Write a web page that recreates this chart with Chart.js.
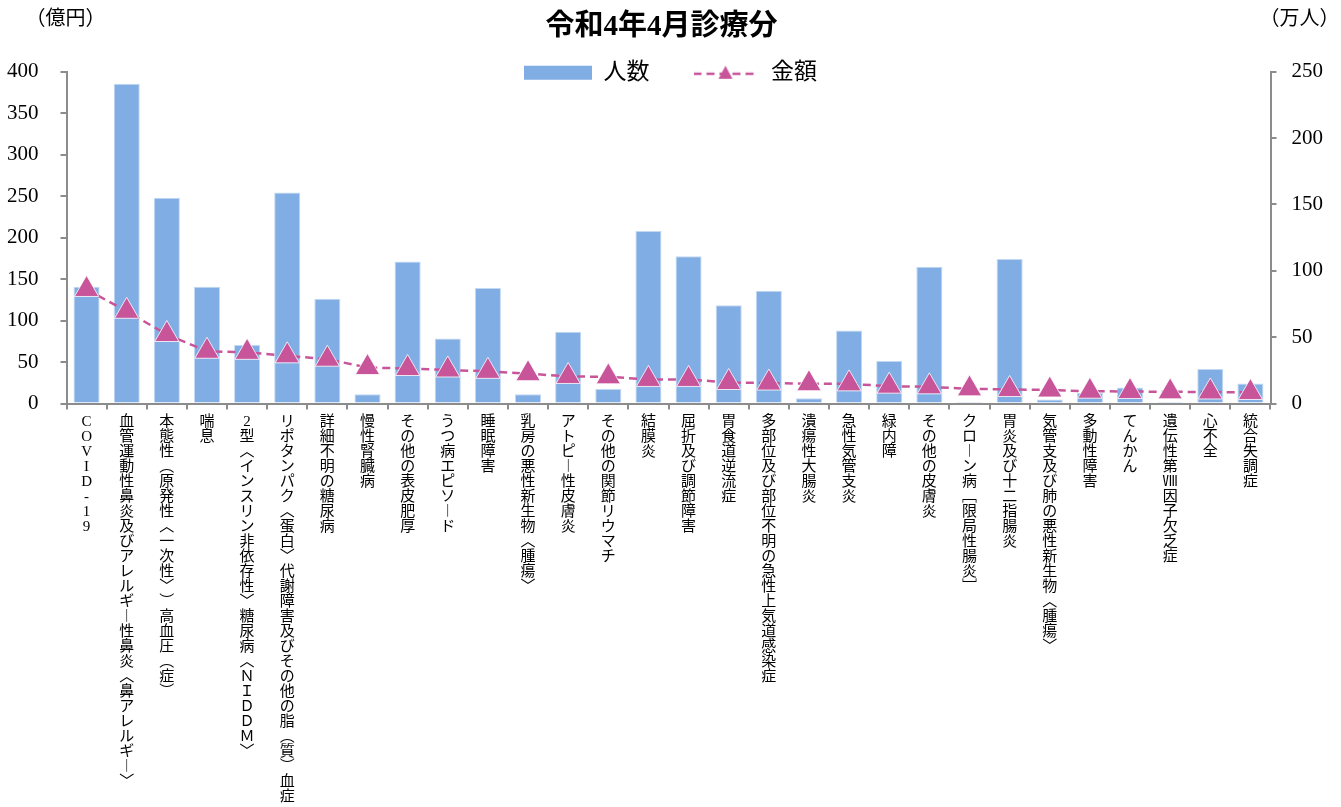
<!DOCTYPE html>
<html lang="ja">
<head>
<meta charset="utf-8">
<title>令和4年4月診療分</title>
<script src="https://cdn.jsdelivr.net/npm/chart.js@4.4.1/dist/chart.umd.min.js"></script>
<style>
  html, body { margin: 0; padding: 0; background: #fff; }
</style>
</head>
<body>
<canvas id="myChart" width="1341" height="807"></canvas>
<script>
// 傷病名（金額の多い順）
const diseases = [
  'COVID-19',
  '血管運動性鼻炎及びアレルギー性鼻炎〈鼻アレルギー〉',
  '本態性（原発性〈一次性〉）高血圧（症）',
  '喘息',
  '2型〈インスリン非依存性〉糖尿病〈ＮＩＤＤＭ〉',
  'リポタンパク〈蛋白〉代謝障害及びその他の脂（質）血症',
  '詳細不明の糖尿病',
  '慢性腎臓病',
  'その他の表皮肥厚',
  'うつ病エピソード',
  '睡眠障害',
  '乳房の悪性新生物〈腫瘍〉',
  'アトピー性皮膚炎',
  'その他の関節リウマチ',
  '結膜炎',
  '屈折及び調節障害',
  '胃食道逆流症',
  '多部位及び部位不明の急性上気道感染症',
  '潰瘍性大腸炎',
  '急性気管支炎',
  '緑内障',
  'その他の皮膚炎',
  'クローン病［限局性腸炎］',
  '胃炎及び十二指腸炎',
  '気管支及び肺の悪性新生物〈腫瘍〉',
  '多動性障害',
  'てんかん',
  '遺伝性第Ⅷ因子欠乏症',
  '心不全',
  '統合失調症'
];

// 人数（万人）
const patients = [88, 241, 155, 88, 44, 159, 79, 7, 107, 49,
                  87, 7, 54, 11, 130, 111, 74, 85, 4, 55,
                  32, 103, 0.4, 109, 3, 8, 12, 0.2, 26, 15];

// 金額（億円）
const amounts = [137.5, 111.2, 83.2, 63.0, 61.7, 57.5, 53.4, 43.4, 42.2, 40.4,
                 38.8, 36.0, 32.6, 32.2, 29.0, 29.0, 25.3, 24.7, 23.9, 23.7,
                 20.9, 20.1, 17.7, 16.9, 16.3, 14.8, 14.5, 14.1, 13.9, 13.3];

const leftTicks = [0, 50, 100, 150, 200, 250, 300, 350, 400];
const rightTicks = [0, 50, 100, 150, 200, 250];

const fam = '"Liberation Serif", "Noto Sans CJK JP", serif';
const barColor = '#80ade3';
const lineColor = '#c8559a';
const axisColor = '#8c8c8c';

// 縦書き用に文字を置き換えて1文字ずつ行にする
const vert = { '（': '︵', '）': '︶', '〈': '︿', '〉': '﹀', '［': '﹇', '］': '﹈', 'ー': '︱' };
const xLabels = diseases.map(s => Array.from(s).map(c => vert[c] || c));

// 凡例の「金額」用アイコン（破線＋三角）
const lineIcon = document.createElement('canvas');
lineIcon.width = 64;
lineIcon.height = 16;
(function () {
  const c = lineIcon.getContext('2d');
  c.strokeStyle = lineColor;
  c.lineWidth = 2.5;
  c.setLineDash([8, 5]);
  c.beginPath();
  c.moveTo(0, 9);
  c.lineTo(64, 9);
  c.stroke();
  c.fillStyle = lineColor;
  c.beginPath();
  c.moveTo(32, 1);
  c.lineTo(39, 14);
  c.lineTo(25, 14);
  c.closePath();
  c.fill();
})();

// 凡例をプロット上端に重ねる（凡例の中心を軸の上端に合わせる）
const legendShift = {
  id: 'legendShift',
  afterLayout(chart) {
    const lg = chart.legend;
    const lab = lg.options.labels;
    const h = lab.padding * 2 + lab.font.size + 10;
    lg.top = chart.chartArea.top + 1 - lab.padding - lab.font.size / 2;
    lg.height = h;
    lg.bottom = lg.top + h;
    lg.left = 0;
    lg.right = chart.width;
  }
};

// 軸の単位
const unitLabels = {
  id: 'unitLabels',
  afterDraw(chart) {
    const ctx = chart.ctx;
    ctx.save();
    ctx.font = '20px ' + fam;
    ctx.fillStyle = '#000';
    ctx.textAlign = 'center';
    ctx.textBaseline = 'middle';
    ctx.fillText('（億円）', chart.scales.y.right - 1, 20);
    ctx.fillText('（万人）', chart.scales.y1.left + 29, 20);
    ctx.restore();
  }
};

const ctx = document.getElementById('myChart').getContext('2d');
const myChart = new Chart(ctx, {
  type: 'bar',
  data: {
    labels: xLabels,
    datasets: [{
      type: 'bar',
      label: '人数',
      data: patients,
      yAxisID: 'y1',
      backgroundColor: barColor,
      borderColor: '#c3d9f3',
      borderWidth: 1,
      barPercentage: 0.65,
      categoryPercentage: 1,
      order: 2
    }, {
      type: 'line',
      label: '金額',
      data: amounts,
      yAxisID: 'y',
      borderColor: lineColor,
      backgroundColor: lineColor,
      borderWidth: 2.5,
      borderDash: [8, 5],
      pointStyle: 'triangle',
      pointRadius: 14,
      pointBackgroundColor: lineColor,
      pointBorderColor: 'rgba(255,255,255,0.8)',
      pointBorderWidth: 1,
      fill: false,
      tension: 0,
      order: 1
    }]
  },
  options: {
    responsive: false,
    animation: false,
    layout: { padding: { left: -15, right: 3, top: 0, bottom: 0 } },
    scales: {
      x: {
        offset: true,
        grid: { drawOnChartArea: false, offset: true, tickLength: 6, color: axisColor, lineWidth: 2 },
        border: { color: axisColor, width: 2 },
        ticks: {
          autoSkip: false, maxRotation: 0, minRotation: 0, padding: 5, color: '#000',
          font: { family: fam, size: 15, lineHeight: '15px' }
        }
      },
      y: {
        position: 'left',
        min: leftTicks[0],
        max: leftTicks[leftTicks.length - 1],
        ticks: {
          stepSize: leftTicks[1] - leftTicks[0], padding: 22, color: '#000',
          font: { family: fam, size: 21 }
        },
        grid: { drawOnChartArea: false, tickLength: 6, color: axisColor, lineWidth: 2 },
        border: { color: axisColor, width: 2 }
      },
      y1: {
        position: 'right',
        min: rightTicks[0],
        max: rightTicks[rightTicks.length - 1],
        ticks: {
          stepSize: rightTicks[1] - rightTicks[0], padding: 15, color: '#000',
          font: { family: fam, size: 21 }
        },
        grid: { drawOnChartArea: false, tickLength: 6, color: axisColor, lineWidth: 2 },
        border: { color: axisColor, width: 2 }
      }
    },
    plugins: {
      title: {
        display: true,
        text: '令和4年4月診療分',
        color: '#000',
        font: { family: fam, size: 29, weight: 'bold' },
        padding: { top: 10, bottom: 0 }
      },
      legend: {
        position: 'top',
        maxHeight: 27,
        labels: {
          usePointStyle: true,
          pointStyleWidth: 68,
          boxHeight: 14,
          padding: 42,
          color: '#000',
          font: { family: fam, size: 23 },
          sort: (a, b) => a.datasetIndex - b.datasetIndex,
          generateLabels(chart) {
            const items = Chart.defaults.plugins.legend.labels.generateLabels(chart);
            items.forEach(it => {
              if (it.datasetIndex === 0) {
                it.pointStyle = 'rect';
                it.lineWidth = 0;
              } else {
                it.pointStyle = lineIcon;
              }
            });
            return items;
          }
        }
      },
      tooltip: { enabled: false }
    }
  },
  plugins: [legendShift, unitLabels]
});
</script>
</body>
</html>
